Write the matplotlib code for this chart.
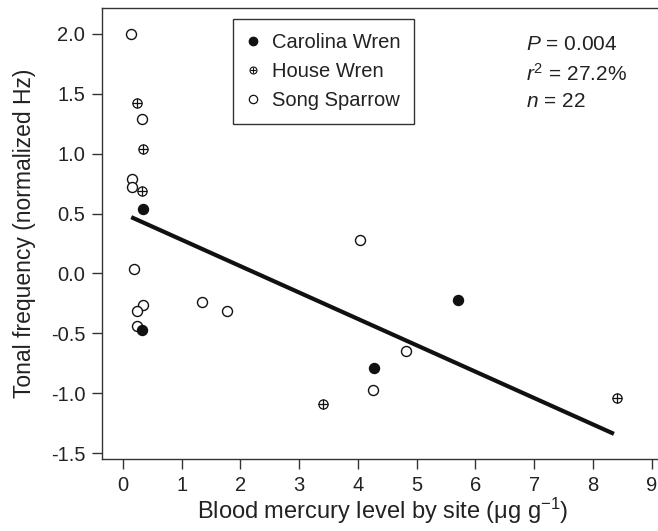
import matplotlib
matplotlib.use("Agg")
import matplotlib.pyplot as plt
from matplotlib.lines import Line2D

plt.rcParams['font.family'] = ['Liberation Sans', 'DejaVu Sans']
plt.rcParams['mathtext.fontset'] = 'custom'
plt.rcParams['mathtext.rm'] = 'Liberation Sans'
plt.rcParams['mathtext.it'] = 'Liberation Sans:italic'

# Data
carolina_x = [0.34, 0.32, 4.28, 5.70]
carolina_y = [0.54, -0.47, -0.79, -0.22]
house_x = [0.23, 0.34, 0.32, 3.40, 8.41]
house_y = [1.42, 1.04, 0.69, -1.09, -1.04]
song_x = [0.14, 0.32, 0.16, 0.15, 0.19, 0.34, 0.23, 0.23, 1.35, 1.77, 4.04, 4.82, 4.26]
song_y = [2.00, 1.29, 0.79, 0.72, 0.04, -0.26, -0.31, -0.44, -0.24, -0.31, 0.28, -0.65, -0.97]
fit_x = [0.14, 8.36]
fit_y = [0.47, -1.34]
x_ticks = [0, 1, 2, 3, 4, 5, 6, 7, 8, 9]
y_ticks = [-1.5, -1.0, -0.5, 0.0, 0.5, 1.0, 1.5, 2.0]

dark = '#222222'
fig = plt.figure(figsize=(6.58, 5.31), dpi=100)
ax = fig.add_axes([0.155, 0.1356, 0.853, 0.8494])

ax.plot(fit_x, fit_y, color='#111111', lw=3.0, solid_capstyle='butt', zorder=2)
ms = 7.2
ax.plot(song_x, song_y, 'o', ls='none', ms=ms, mfc='white', mec='#111111', mew=1.0, zorder=3)
ax.plot(house_x, house_y, 'o', ls='none', ms=6.6, mfc='white', mec='#111111', mew=0.9, zorder=3)
ax.plot(house_x, house_y, '+', ls='none', ms=6.6, mec='#111111', mew=0.9, zorder=4)
ax.plot(carolina_x, carolina_y, 'o', ls='none', ms=ms, mfc='#111111', mec='#111111', mew=1.0, zorder=3)

ax.set_xlim(-0.358, 9.2)
ax.set_ylim(-1.55, 2.217)
ax.set_xticks(x_ticks)
ax.set_xticklabels([str(v) for v in x_ticks])
ax.set_yticks(y_ticks)
ax.set_yticklabels([f"{v:.1f}" for v in y_ticks])
for s in ax.spines.values():
    s.set_color('#333333')
    s.set_linewidth(1.0)
ax.tick_params(direction='out', length=7, width=1.0, color='#333333', labelsize=14.5,
               labelcolor=dark, pad=5)
ax.xaxis.set_ticks_position('bottom')
ax.yaxis.set_ticks_position('left')

ax.set_xlabel('Blood mercury level by site (μg g$^{\u2212 1}$)', fontsize=17, color=dark, labelpad=1)
ax.set_ylabel('Tonal frequency (normalized Hz)', fontsize=16.5, color=dark, labelpad=11)

# legend
h_car = Line2D([], [], marker='o', ls='none', ms=6, mfc='#111111', mec='#111111')
h_ho = Line2D([], [], marker='o', ls='none', ms=5, mfc='white', mec='#111111', mew=0.8)
h_hp = Line2D([], [], marker='+', ls='none', ms=5, mec='#111111', mew=0.8)
h_so = Line2D([], [], marker='o', ls='none', ms=6, mfc='white', mec='#111111', mew=0.9)
leg = ax.legend([h_car, (h_ho, h_hp), h_so], ['Carolina Wren', 'House Wren', 'Song Sparrow'],
                loc='upper left', bbox_to_anchor=(0.234, 0.976), fontsize=14.5,
                frameon=True, fancybox=False, edgecolor='#333333', framealpha=1,
                handlelength=0.6, handletextpad=0.6, labelspacing=0.5,
                borderpad=0.7, borderaxespad=0)
leg.get_frame().set_linewidth(1.0)
for t in leg.get_texts():
    t.set_color(dark)

tx = 0.755
ax.text(tx, 0.918, '$P$ = 0.004', transform=ax.transAxes, fontsize=15, color=dark, va='center')
ax.text(tx, 0.855, '$r^2$ = 27.2%', transform=ax.transAxes, fontsize=15, color=dark, va='center')
ax.text(tx, 0.792, '$n$ = 22', transform=ax.transAxes, fontsize=15, color=dark, va='center')

fig.savefig('out.png', dpi=100)
